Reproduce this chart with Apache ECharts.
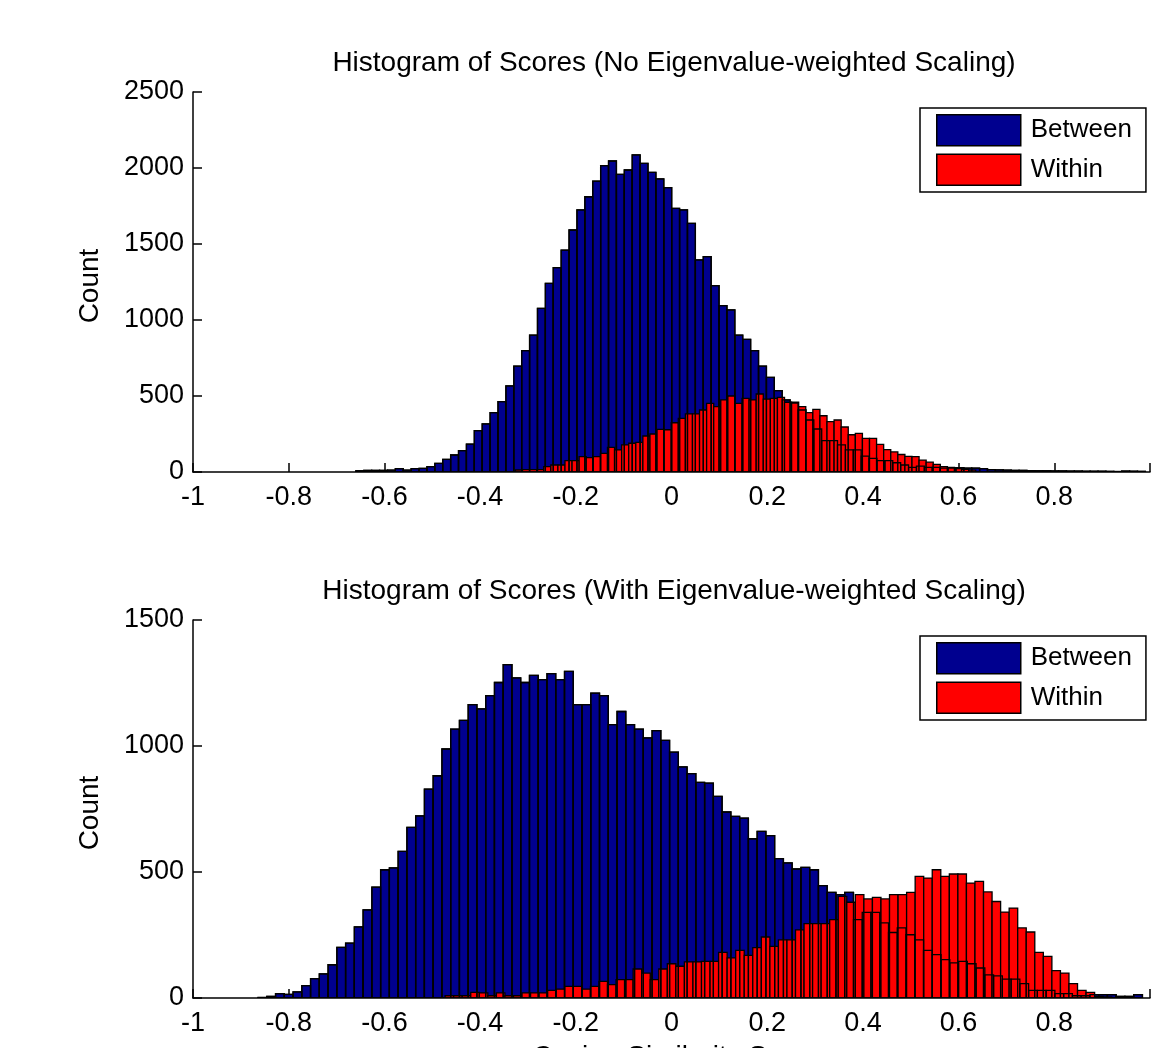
<!DOCTYPE html>
<html><head><meta charset="utf-8">
<script src="https://cdn.jsdelivr.net/npm/echarts@6/dist/echarts.min.js"></script>
<style>html,body{margin:0;padding:0;background:#fff}#c{width:1153px;height:1048px}</style>
</head><body><div id="c"></div>
<script>
// ---------- data ----------
const seriesNames = ['Between', 'Within'];
const titles = ['Histogram of Scores (No Eigenvalue-weighted Scaling)', 'Histogram of Scores (With Eigenvalue-weighted Scaling)'];
const yLabel = 'Count';
const xLabel = 'Cosine Similarity Score';
const xTickLabels = ['-1', '-0.8', '-0.6', '-0.4', '-0.2', '0', '0.2', '0.4', '0.6', '0.8', ''];
const yTickLabelsTop = ['0', '500', '1000', '1500', '2000', '2500'];
const yTickLabelsBottom = ['0', '500', '1000', '1500'];

// top panel: Between
const topBetweenStart = -0.6596;
const topBetweenWidth = 0.0165;
const topBetweenCounts = [
  8, 10, 10, 10, 12, 22, 12, 22, 24,
  35, 57, 83, 112, 140, 184, 272, 316, 390, 463,
  566, 697, 798, 901, 1077, 1241, 1344, 1460, 1592, 1724,
  1811, 1914, 2016, 2046, 1958, 1987, 2086, 2031, 1971, 1928,
  1871, 1734, 1724, 1636, 1395, 1417, 1226, 1094, 1066, 901,
  873, 798, 697, 623, 535, 474, 454, 408, 342, 283,
  206, 206, 178, 145, 145, 105, 90, 75, 75, 61,
  46, 31, 39, 31, 31, 25, 25, 28, 25, 25,
  22, 16, 14, 12, 10, 10, 9, 8, 8, 7,
  7, 6, 6, 5, 5, 5, 4, 3, 6, 5, 4
];
// top panel: Within
const topWithinStart = -0.3262;
const topWithinWidth = 0.0148;
const topWithinCounts = [
  13, 15, 15, 15, 35, 46, 46, 75, 75, 101,
  95, 101, 123, 162, 145, 178, 189, 195, 237, 250,
  281, 278, 324, 353, 382, 382, 408, 452, 430, 474,
  500, 452, 485, 474, 513, 480, 485, 491, 459, 459,
  430, 390, 412, 370, 331, 342, 296, 245, 254, 221,
  221, 182, 147, 132, 115, 103, 101, 78, 65, 50,
  35, 30, 22, 18, 12
];
// bottom panel: Between
const botBetweenStart = -0.8641;
const botBetweenWidth = 0.0183;
const botBetweenCounts = [
  2, 6, 17, 14, 24, 49, 77, 96, 132, 201,
  218, 282, 350, 440, 509, 516, 582, 677, 723, 829,
  882, 988, 1067, 1102, 1164, 1147, 1200, 1252, 1323, 1270,
  1252, 1280, 1263, 1287, 1263, 1296, 1164, 1164, 1210, 1200,
  1085, 1137, 1085, 1067, 1032, 1061, 1022, 976, 917, 890,
  856, 853, 800, 738, 721, 714, 632, 661, 644, 553,
  536, 512, 518, 509, 446, 419, 410, 419, 311, 340,
  340, 298, 260, 278, 251, 231, 189, 172, 152, 139,
  145, 136, 119, 92, 88, 75, 75, 57, 30, 30,
  30, 17, 17, 9, 9, 13, 13, 13, 6, 6, 13
];
// bottom panel: Within
const botWithinStart = -0.4731;
const botWithinWidth = 0.01786;
const botWithinCounts = [
  9, 9, 9, 22, 20, 9, 20, 9, 9, 20,
  20, 20, 30, 35, 46, 46, 35, 46, 66, 53,
  73, 73, 115, 99, 73, 115, 136, 126, 143, 143,
  145, 145, 181, 159, 189, 169, 200, 242, 205, 231,
  231, 270, 295, 295, 295, 311, 403, 380, 410, 393,
  399, 393, 410, 410, 419, 483, 476, 509, 483, 492,
  492, 456, 463, 421, 383, 341, 357, 278, 262, 181,
  165, 109, 99, 57, 30, 22, 6, 4
];

// ---------- chart ----------
const BLUE = '#00008F', RED = '#FF0000';
const FONT = 'Liberation Sans';
const FS = 27;

function histData(start, width, counts) {
  return counts.map((c, i) => [start + i * width, start + (i + 1) * width, c]);
}
function barRenderer(fillColor, outlineOnly) {
  return function (params, api) {
    const a = api.coord([api.value(0), api.value(2)]);
    const b = api.coord([api.value(1), 0]);
    return {
      type: 'rect',
      shape: { x: a[0], y: a[1], width: b[0] - a[0], height: b[1] - a[1] },
      style: { fill: outlineOnly ? 'none' : fillColor, stroke: '#000', lineWidth: 1.3 }
    };
  };
}
function histSeries(name, idx, color, start, width, counts, outlineOnly) {
  return {
    type: 'custom', name: name, xAxisIndex: idx, yAxisIndex: idx,
    renderItem: barRenderer(color, outlineOnly),
    data: histData(start, width, counts),
    encode: { x: [0, 1], y: 2 },
    itemStyle: { color: color },
    silent: true, clip: true
  };
}
function xAxisDef(idx) {
  return {
    type: 'value', gridIndex: idx, min: -1, max: 1, interval: 0.2,
    axisLine: { show: true, onZero: false, lineStyle: { color: '#000', width: 1.5 } },
    axisTick: { show: true, inside: true, length: 9, lineStyle: { color: '#000', width: 1.5 } },
    axisLabel: { color: '#000', fontSize: FS, fontFamily: FONT, margin: 12,
      formatter: (v) => xTickLabels[Math.round((v + 1) / 0.2)] },
    splitLine: { show: false }
  };
}
function yAxisDef(idx, max, labels) {
  return {
    type: 'value', gridIndex: idx, min: 0, max: max, interval: 500,
    axisLine: { show: true, onZero: false, lineStyle: { color: '#000', width: 1.5 } },
    axisTick: { show: true, inside: true, length: 9, lineStyle: { color: '#000', width: 1.5 } },
    axisLabel: { color: '#000', fontSize: FS, fontFamily: FONT, margin: 9,
      formatter: (v) => labels[Math.round(v / 500)] },
    splitLine: { show: false }
  };
}
function legendDef(top) {
  return {
    orient: 'vertical', left: 920, top: top,
    data: seriesNames,
    icon: 'rect', itemWidth: 84, itemHeight: 31, itemGap: 7,
    itemStyle: { borderColor: '#000', borderWidth: 1.5 },
    padding: [6, 14, 6, 16],
    borderColor: '#000', borderWidth: 1.5, backgroundColor: '#fff',
    textStyle: { color: '#000', fontSize: 26, fontFamily: FONT, padding: [0, 0, 0, 5] },
    selectedMode: false
  };
}
function txt(x, y, text, rot) {
  return {
    type: 'text', x: x, y: y, rotation: rot || 0, silent: true,
    style: { text: text, fill: '#000', fontSize: 28, fontFamily: FONT, textAlign: 'center', textVerticalAlign: 'middle' }
  };
}

const chart = echarts.init(document.getElementById('c'), null, { renderer: 'canvas' });
chart.setOption({
  animation: false,
  backgroundColor: '#fff',
  grid: [
    { left: 193, top: 92, width: 967, height: 380 },
    { left: 193, top: 620, width: 967, height: 378 }
  ],
  xAxis: [xAxisDef(0), xAxisDef(1)],
  yAxis: [yAxisDef(0, 2500, yTickLabelsTop), yAxisDef(1, 1500, yTickLabelsBottom)],
  legend: [legendDef(108), legendDef(636)],
  series: [
    histSeries(seriesNames[0], 0, BLUE, topBetweenStart, topBetweenWidth, topBetweenCounts, false),
    histSeries(seriesNames[1], 0, RED, topWithinStart, topWithinWidth, topWithinCounts, false),
    histSeries('Between edges', 0, BLUE, topBetweenStart, topBetweenWidth, topBetweenCounts, true),
    histSeries(seriesNames[0], 1, BLUE, botBetweenStart, botBetweenWidth, botBetweenCounts, false),
    histSeries(seriesNames[1], 1, RED, botWithinStart, botWithinWidth, botWithinCounts, false),
    histSeries('Between edges', 1, BLUE, botBetweenStart, botBetweenWidth, botBetweenCounts, true)
  ],
  graphic: [
    txt(674, 63, titles[0]),
    txt(674, 591, titles[1]),
    txt(90, 286, yLabel, Math.PI / 2),
    txt(90, 813, yLabel, Math.PI / 2),
    txt(677, 1057, xLabel)
  ]
});
</script>
</body></html>
